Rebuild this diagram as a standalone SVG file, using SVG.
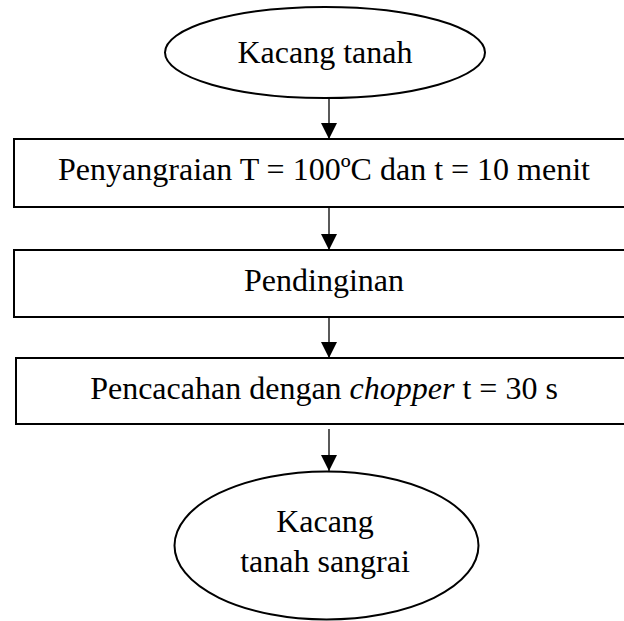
<svg xmlns="http://www.w3.org/2000/svg" width="624" height="621" viewBox="0 0 624 621">
<style>
  .shape { fill: #ffffff; stroke: #000000; stroke-width: 2; }
  .label { font-family: "Liberation Serif", "Times New Roman", serif; font-size: 32px; fill: #000000; text-anchor: middle; }
  .conn { stroke: #000000; stroke-width: 1.3; fill: none; marker-end: url(#arrow); }
</style>
<defs>
  <marker id="arrow" markerUnits="userSpaceOnUse" markerWidth="16" markerHeight="16" refX="16" refY="8" orient="auto">
    <path d="M0,0 L16,8 L0,16 Z" fill="#000000"/>
  </marker>
</defs>
<rect width="624" height="621" fill="#ffffff"/>
<g id="connectors">
  <line class="conn" x1="329" y1="98" x2="329" y2="139"/>
  <line class="conn" x1="329" y1="208" x2="329" y2="250"/>
  <line class="conn" x1="329" y1="318" x2="329" y2="358"/>
  <line class="conn" x1="329" y1="429" x2="329" y2="471"/>
</g>
<g id="start">
  <ellipse class="shape" cx="325" cy="52.5" rx="160" ry="45.5"/>
  <text class="label" x="325" y="63">Kacang tanah</text>
</g>
<g id="roasting">
  <rect class="shape" x="14" y="139" width="620" height="68"/>
  <text class="label" x="324" y="180">Penyangraian T = 100ºC dan t = 10 menit</text>
</g>
<g id="cooling">
  <rect class="shape" x="14" y="250" width="620" height="67"/>
  <text class="label" x="324" y="291">Pendinginan</text>
</g>
<g id="chopping">
  <rect class="shape" x="16" y="358" width="620" height="66"/>
  <text class="label" x="324" y="399">Pencacahan dengan <tspan font-style="italic">chopper</tspan> t = 30 s</text>
</g>
<g id="end">
  <ellipse class="shape" cx="326.5" cy="545.5" rx="152" ry="74"/>
  <text class="label" x="325" y="532">Kacang</text>
  <text class="label" x="325" y="572">tanah sangrai</text>
</g>
</svg>
